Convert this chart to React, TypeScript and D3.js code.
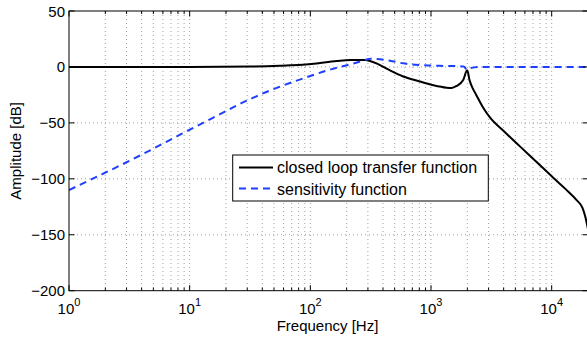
import React from 'react';
import * as d3 from 'd3';

// Closed loop transfer function (frequency in Hz, amplitude in dB)
const tFreq = [1, 10, 32, 56, 102, 166, 214, 282, 378, 457, 589, 809, 1047, 1346, 1479, 1629, 1849, 1995, 2089, 2213, 2371, 2692, 3076, 3981, 5458, 7500, 10300, 13000, 16100, 18000, 18900, 20000];
const tDb = [0, 0, 0.3, 1, 2.6, 5.3, 6.2, 6.3, 1.7, -3, -8.5, -13, -16.3, -18.5, -18.8, -17, -11.7, -3, -12, -19, -25, -36, -45, -57, -71, -85, -99, -109, -119, -126, -133, -145];

// Sensitivity function
const sFreq = [1, 2, 3.16, 5.01, 8.32, 12.9, 20, 26.1, 33.7, 42.7, 54.2, 87.3, 136, 176, 227, 284, 316, 355, 457, 589, 809, 1186, 1528, 1862, 1995, 2138, 2630, 20000];
const sDb = [-110, -94.5, -84, -73, -60.5, -50, -39.5, -33, -27.5, -22.6, -18.2, -10.2, -3.4, 0, 3, 6.2, 7.3, 7, 5.5, 3.2, 1.7, 1, 0.8, 0.3, -2.5, -1, 0, 0];

const yTicks = [50, 0, -50, -100, -150, -200];
const xDecades = [0, 1, 2, 3, 4];
const legendLabels = ['closed loop transfer function', 'sensitivity function'];

const FONT = '"Liberation Sans", Arial, Helvetica, sans-serif';
const BLUE = '#1f3fff';

export default function App() {
  const W = 587, H = 340;
  const L = 69, R = 588, T = 11, B = 290.7;
  const x = d3.scaleLog().domain([1, 20000]).range([L, R]);
  const y = d3.scaleLinear().domain([-200, 50]).range([B, T]);

  const minor: number[] = [];
  for (const d of xDecades) {
    for (let k = 1; k <= 9; k++) {
      const v = k * Math.pow(10, d);
      if (v <= 20000) minor.push(v);
    }
  }

  const line = d3.line<[number, number]>()
    .x(d => x(d[0]))
    .y(d => y(d[1]))
    .curve(d3.curveMonotoneX);

  const tPath = line(tFreq.map((f, i) => [f, tDb[i]] as [number, number])) || '';
  const sPath = line(sFreq.map((f, i) => [f, sDb[i]] as [number, number])) || '';

  const fmt = (v: number) => (v < 0 ? '\u2212' + Math.abs(v) : String(v));

  return (
    <svg width={W} height={H} style={{ position: 'absolute', left: 0, top: 0, background: '#fff' }} fontFamily={FONT}>
      <rect x={0} y={0} width={W} height={H} fill="#fff" />
      <defs>
        <clipPath id="plot">
          <rect x={L} y={T} width={R - L} height={B - T} />
        </clipPath>
      </defs>
      {/* grid */}
      <g stroke="#8a8a8a" strokeWidth={0.8} strokeDasharray="1,3">
        {minor.filter(v => v > 1).map(v => (
          <line key={'gx' + v} x1={x(v)} x2={x(v)} y1={T} y2={B} />
        ))}
        {yTicks.filter(v => v > -200 && v < 50).map(v => (
          <line key={'gy' + v} x1={L} x2={R} y1={y(v)} y2={y(v)} />
        ))}
      </g>
      {/* curves */}
      <g clipPath="url(#plot)" fill="none">
        <path d={tPath} stroke="#000" strokeWidth={2} />
        <path d={sPath} stroke={BLUE} strokeWidth={2} strokeDasharray="7,5" />
      </g>
      {/* axes box */}
      <rect x={L} y={T} width={R - L} height={B - T} fill="none" stroke="#000" strokeWidth={1} />
      {/* x ticks */}
      <g stroke="#000" strokeWidth={1}>
        {minor.map(v => {
          const major = xDecades.some(d => Math.abs(v - Math.pow(10, d)) < 1e-9);
          const len = major ? 5.5 : 3;
          return (
            <g key={'tx' + v}>
              <line x1={x(v)} x2={x(v)} y1={B} y2={B - len} />
              <line x1={x(v)} x2={x(v)} y1={T} y2={T + len} />
            </g>
          );
        })}
        {yTicks.map(v => (
          <g key={'ty' + v}>
            <line x1={L} x2={L + 5.5} y1={y(v)} y2={y(v)} />
            <line x1={R} x2={R - 5.5} y1={y(v)} y2={y(v)} />
          </g>
        ))}
      </g>
      {/* y tick labels */}
      <g fontSize={15} fill="#000">
        {yTicks.map(v => (
          <text key={'ly' + v} x={L - 4} y={y(v) + 5.5} textAnchor="end">{fmt(v)}</text>
        ))}
      </g>
      {/* x tick labels */}
      <g fontSize={15} fill="#000">
        {xDecades.map(d => (
          <text key={'lx' + d} x={x(Math.pow(10, d))} y={314} textAnchor="middle">
            <tspan>10</tspan>
            <tspan dy={-8} fontSize={11}>{d}</tspan>
          </text>
        ))}
      </g>
      {/* axis labels */}
      <text x={(L + R) / 2 - 1} y={331} textAnchor="middle" fontSize={15}>Frequency [Hz]</text>
      <text transform={`translate(21,${(T + B) / 2}) rotate(-90)`} textAnchor="middle" fontSize={15}>Amplitude [dB]</text>
      {/* legend */}
      <g>
        <rect x={232.7} y={155} width={255.6} height={46} fill="#fff" stroke="#000" strokeWidth={1} />
        <line x1={239} x2={273} y1={167.5} y2={167.5} stroke="#000" strokeWidth={2} />
        <line x1={239} x2={273} y1={188.5} y2={188.5} stroke={BLUE} strokeWidth={2} strokeDasharray="7,5" />
        <text x={277} y={173.3} fontSize={16}>{legendLabels[0]}</text>
        <text x={277} y={194.5} fontSize={16}>{legendLabels[1]}</text>
      </g>
    </svg>
  );
}
